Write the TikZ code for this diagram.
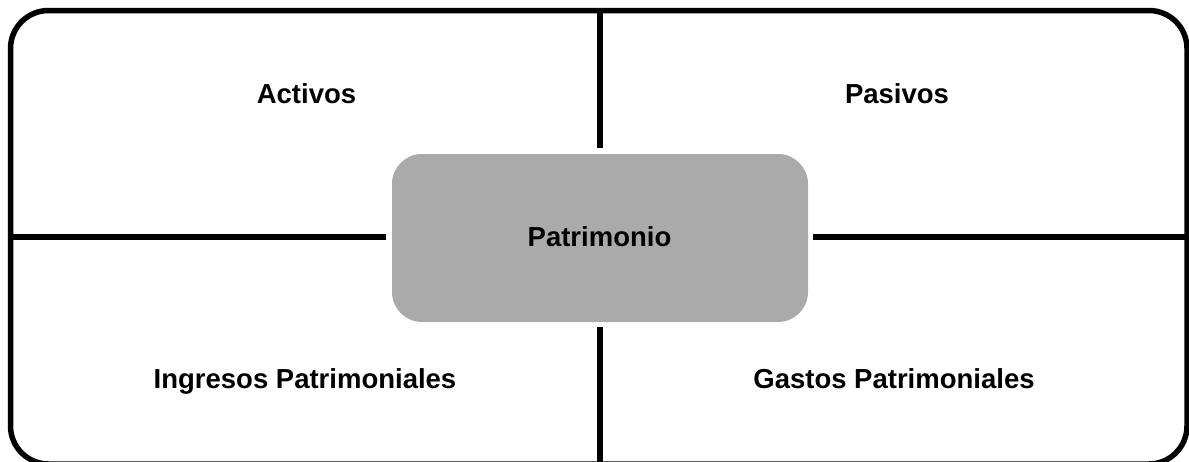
\documentclass[tikz,border=0pt]{standalone}
\usepackage{fontspec}
\setmainfont{Liberation Sans}
\definecolor{boxgray}{RGB}{170,170,170}
\begin{document}
\begin{tikzpicture}[x=1pt,y=-1pt,
  frame/.style={draw=black,line width=5.5pt,rounded corners=38pt},
  divider/.style={draw=black,line width=6pt},
  label/.style={font=\fontsize{27.5}{33}\selectfont\bfseries,anchor=base,inner sep=0pt},
  centerbox/.style={fill=boxgray,draw=none,rounded corners=30pt,minimum width=416pt,minimum height=168pt,inner sep=0pt}]
\useasboundingbox (0,0) rectangle (1189,461);
\clip (0,0) rectangle (1189,461);
\draw[frame] (10.5,10.5) rectangle (1187,464);
\node[centerbox] (pat) at (600,238) {};
\node[label] (patl) at (599.5,246) {Patrimonio};
\coordinate (vtop) at (600,10.5);
\coordinate (vtopend) at (600,148);
\coordinate (vbot) at (600,327);
\coordinate (vbotend) at (600,467);
\coordinate (hleft) at (10.5,237);
\coordinate (hleftend) at (386,237);
\coordinate (hright) at (813,237);
\coordinate (hrightend) at (1187,237);
\draw[divider] (vtop) -- (vtopend);
\draw[divider] (vbot) -- (vbotend);
\draw[divider] (hleft) -- (hleftend);
\draw[divider] (hright) -- (hrightend);
\node[label] (act) at (306.5,103) {Activos};
\node[label] (pas) at (897,103) {Pasivos};
\node[label] (ing) at (305,388) {Ingresos Patrimoniales};
\node[label] (gas) at (894,388) {Gastos Patrimoniales};
\end{tikzpicture}
\end{document}
